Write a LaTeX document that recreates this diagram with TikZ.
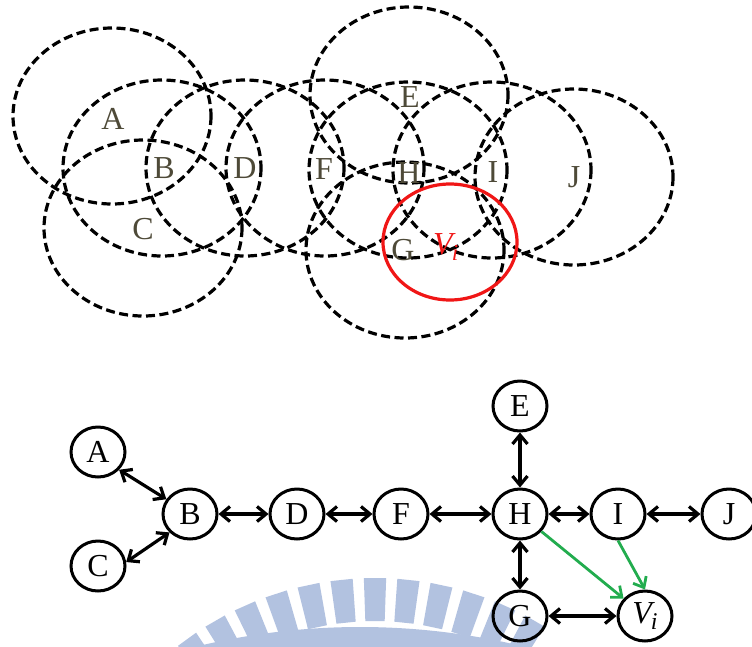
\documentclass[tikz,border=0pt]{standalone}
\usepackage{fontspec}
\setmainfont{Liberation Serif}
\usetikzlibrary{shapes.geometric,arrows.meta}
\definecolor{labelink}{RGB}{78,74,56}
\definecolor{rangered}{RGB}{240,22,22}
\definecolor{linkgreen}{RGB}{34,172,78}
\definecolor{crest}{RGB}{178,194,224}
\newcommand{\vsub}[1]{{\itshape V\kern-1pt\raisebox{-6pt}{\fontsize{#1}{#1}\selectfont i}}}
\begin{document}
\begin{tikzpicture}[x=1pt,y=-1pt,
  coverage/.style={draw=black,line width=3.2pt,dash pattern=on 9pt off 4.5pt},
  rlabel/.style={text=labelink,font=\fontsize{32}{38}\selectfont,inner sep=0pt},
  vertex/.style={draw,ellipse,line width=3pt,minimum width=54pt,minimum height=50pt,inner sep=0pt,font=\fontsize{32}{38}\selectfont},
  barb/.tip={Straight Barb[length=9pt,width=15pt]},
  biLink/.style={line width=3.2pt,barb-barb},
  greenLink/.style={draw=linkgreen,line width=2.8pt,-barb}]
\useasboundingbox (0,0) rectangle (752,646);

% faint crest in the lower part: ring of bars and a wide band
\begin{scope}[shift={(375,898)}]
  \foreach \a in {60,66,...,126}
    \fill[crest] ({-\a+2}:277) -- ({-\a+2}:320) -- ({-\a-2}:320) -- ({-\a-2}:277) -- cycle;
\end{scope}
\begin{scope}[shift={(360,1317)}]
  \draw[crest,line width=40pt] (0,0) circle[radius=670];
\end{scope}

% transmission ranges
\foreach \cx/\cy in {112/116,162/168,143/228,245/168,325/168,409/95,408/170,492/170,574/177,405/250}
  \draw[coverage] (\cx,\cy) ellipse[x radius=99,y radius=88];
\draw[rangered,line width=3.2pt] (450,242) ellipse[x radius=67,y radius=58];

% range labels
\node[rlabel] (rA) at (113,119) {A};
\node[rlabel] (rB) at (164,168) {B};
\node[rlabel] (rC) at (143,229) {C};
\node[rlabel] (rD) at (245,168) {D};
\node[rlabel] (rE) at (410,97) {E};
\node[rlabel] (rF) at (324,169) {F};
\node[rlabel] (rH) at (409,173) {H};
\node[rlabel] (rI) at (493,172) {I};
\node[rlabel] (rJ) at (574,177) {J};
\node[rlabel] (rG) at (403,250) {G};
\node[rlabel,text=rangered,anchor=base west] (rV) at (433,254) {\vsub{23}};

% graph
\node[vertex] (A) at (98,452) {A};
\node[vertex] (B) at (190,514) {B};
\node[vertex] (C) at (98,566) {C};
\node[vertex] (D) at (297,514) {D};
\node[vertex] (F) at (401,514) {F};
\node[vertex] (H) at (520,514) {H};
\node[vertex] (E) at (520,406) {E};
\node[vertex] (I) at (618,514) {I};
\node[vertex] (J) at (729,514) {J};
\node[vertex] (G) at (520,616) {G};
\node[vertex] (V) at (645,616) {\vsub{24}};

\draw[biLink] (A.-40) -- (B.148);
\draw[biLink] (C.8) -- (B.222);
\draw[biLink] (B) -- (D);
\draw[biLink] (D) -- (F);
\draw[biLink] (F) -- (H);
\draw[biLink] (E) -- (H);
\draw[biLink] (H) -- (I);
\draw[biLink] (I) -- (J);
\draw[biLink] (H) -- (G);
\draw[biLink] (G) -- (V);
\draw[greenLink] (H) -- (V);
\draw[greenLink] (I.south) -- (V.north);
\end{tikzpicture}
\end{document}
